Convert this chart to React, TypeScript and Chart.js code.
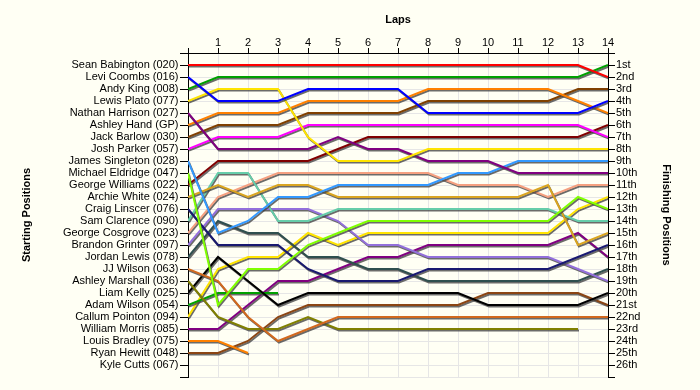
import React, { useEffect, useRef } from 'react';
import { Chart, registerables } from 'chart.js';

Chart.register(...registerables);

const laps = [0, 1, 2, 3, 4, 5, 6, 7, 8, 9, 10, 11, 12, 13, 14];

const startingLabels = [
  'Sean Babington (020)', 'Levi Coombs (016)', 'Andy King (008)', 'Lewis Plato (077)',
  'Nathan Harrison (027)', 'Ashley Hand (GP)', 'Jack Barlow (030)', 'Josh Parker (057)',
  'James Singleton (028)', 'Michael Eldridge (047)', 'George Williams (022)', 'Archie White (024)',
  'Craig Linscer (076)', 'Sam Clarence (090)', 'George Cosgrove (023)', 'Brandon Grinter (097)',
  'Jordan Lewis (078)', 'JJ Wilson (063)', 'Ashley Marshall (036)', 'Liam Kelly (025)',
  'Adam Wilson (054)', 'Callum Pointon (094)', 'William Morris (085)', 'Louis Bradley (075)',
  'Ryan Hewitt (048)', 'Kyle Cutts (067)',
];

const finishingLabels = [
  '1st', '2nd', '3rd', '4th', '5th', '6th', '7th', '8th', '9th', '10th', '11th', '12th', '13th',
  '14th', '15th', '16th', '17th', '18th', '19th', '20th', '21st', '22nd', '23rd', '24th', '25th', '26th',
];

// position of each driver after each lap (lap 0 = grid)
const seanBabington = [1, 1, 1, 1, 1, 1, 1, 1, 1, 1, 1, 1, 1, 1, 2];
const leviCoombs = [2, 4, 4, 4, 3, 3, 3, 3, 5, 5, 5, 5, 5, 5, 4];
const andyKing = [3, 2, 2, 2, 2, 2, 2, 2, 2, 2, 2, 2, 2, 2, 1];
const lewisPlato = [4, 3, 3, 3, 7, 9, 9, 9, 8, 8, 8, 8, 8, 8, 8];
const nathanHarrison = [5, 8, 8, 8, 8, 7, 8, 8, 9, 9, 9, 10, 10, 10, 10];
const ashleyHand = [6, 5, 5, 5, 4, 4, 4, 4, 3, 3, 3, 3, 3, 4, 5];
const jackBarlow = [7, 6, 6, 6, 5, 5, 5, 5, 4, 4, 4, 4, 4, 3, 3];
const joshParker = [8, 7, 7, 7, 6, 6, 6, 6, 6, 6, 6, 6, 6, 6, 7];
const jamesSingleton = [9, 15, 14, 12, 12, 11, 11, 11, 11, 10, 10, 9, 9, 9, 9];
const michaelEldridge = [10, 21, 18, 18, 16, 15, 14, 14, 14, 14, 14, 14, 14, 12, 13];
const georgeWilliams = [11, 9, 9, 9, 9, 8, 7, 7, 7, 7, 7, 7, 7, 7, 6];
const archieWhite = [12, 11, 12, 11, 11, 12, 12, 12, 12, 12, 12, 12, 11, 16, 15];
const craigLinscer = [13, 16, 16, 16, 18, 19, 19, 19, 18, 18, 18, 18, 18, 17, 16];
const samClarence = [14, 10, 10, 14, 14, 13, 13, 13, 13, 13, 13, 13, 13, 14, 14];
const georgeCosgrove = [15, 12, 11, 10, 10, 10, 10, 10, 10, 11, 11, 11, 12, 11, 11];
const brandonGrinter = [16, 13, 13, 13, 13, 14, 16, 16, 17, 17, 17, 17, 17, 18, 19];
const jordanLewis = [17, 14, 15, 15, 17, 17, 18, 18, 19, 19, 19, 19, 19, 19, 18];
const jjWilson = [18, 19, 22, 24, 23, 22, 22, 22, 22, 22, 22, 22, 22, 22, 22];
const ashleyMarshall = [19, 22, 23, 23, 22, 23, 23, 23, 23, 23, 23, 23, 23, 23, null];
const liamKelly = [20, 17, 19, 21, 20, 20, 20, 20, 20, 20, 21, 21, 21, 21, 20];
const adamWilson = [21, 20, 20, 20, null, null, null, null, null, null, null, null, null, null, null];
const callumPointon = [22, 18, 17, 17, 15, 16, 15, 15, 15, 15, 15, 15, 15, 13, 12];
const williamMorris = [23, 23, 21, 19, 19, 18, 17, 17, 16, 16, 16, 16, 16, 15, 17];
const louisBradley = [24, 24, 25, null, null, null, null, null, null, null, null, null, null, null, null];
const ryanHewitt = [25, 25, 24, 22, 21, 21, 21, 21, 21, 21, 20, 20, 20, 20, 21];
const kyleCutts: (number | null)[] = [null, null, null, null, null, null, null, null, null, null, null, null, null, null, null];

const driverPositions = [
  seanBabington, leviCoombs, andyKing, lewisPlato, nathanHarrison, ashleyHand, jackBarlow,
  joshParker, jamesSingleton, michaelEldridge, georgeWilliams, archieWhite, craigLinscer,
  samClarence, georgeCosgrove, brandonGrinter, jordanLewis, jjWilson, ashleyMarshall, liamKelly,
  adamWilson, callumPointon, williamMorris, louisBradley, ryanHewitt, kyleCutts,
];

const lineColors = [
  '#FF0000', '#0000FF', '#00A000', '#FFE400', '#800080', '#FF8000', '#804000', '#FF00FF',
  '#3399FF', '#80FF00', '#800000', '#DAA520', '#191970', '#66CDAA', '#F5A080', '#9370DB',
  '#2F4F4F', '#D2691E', '#808000', '#000000', '#00A000', '#FFE400', '#800080', '#FF8000',
  '#8B4513', '#FF00FF',
];

const shadowPlugin = {
  id: 'lineShadow',
  beforeDatasetDraw(chart: any) {
    const c = chart.ctx;
    c.save();
    c.shadowColor = 'rgba(70,70,70,0.8)';
    c.shadowOffsetX = 1;
    c.shadowOffsetY = 1.5;
    c.shadowBlur = 0;
  },
  afterDatasetDraw(chart: any) {
    chart.ctx.restore();
  },
};

const yTickValues = [0, ...startingLabels.map((_, i) => i + 1), startingLabels.length + 1];

export default function App() {
  const ref = useRef<HTMLCanvasElement | null>(null);

  useEffect(() => {
    if (!ref.current) return;
    Chart.defaults.font.family = '"Liberation Sans", Arial, sans-serif';
    const datasets = driverPositions
      .map((pos, i) => ({
        label: startingLabels[i],
        data: pos.map((p, j) => ({ x: laps[j], y: p })),
        borderColor: lineColors[i],
        backgroundColor: lineColors[i],
        borderWidth: 2,
        pointRadius: 0,
        tension: 0,
        fill: false,
        spanGaps: false,
        yAxisID: 'y',
        xAxisID: 'x',
      }))
      .filter((d) => d.data.some((pt) => pt.y !== null));

    const gridColor = '#E6E6E6';
    const tickFont = { size: 11 };
    const titleFont = { size: 11, weight: 'bold' as const };

    const chart = new Chart(ref.current, {
      type: 'line',
      data: { datasets },
      plugins: [shadowPlugin],
      options: {
        responsive: false,
        animation: false,
        layout: { padding: { left: 0, right: 0, top: 0, bottom: 13 } },
        plugins: { legend: { display: false }, tooltip: { enabled: false } },
        scales: {
          x: {
            type: 'linear',
            position: 'top',
            min: 0,
            max: 14,
            afterBuildTicks: (s: any) => {
              s.ticks = laps.map((v) => ({ value: v }));
            },
            afterFit: (s: any) => {
              s.height = 53;
            },
            ticks: {
              autoSkip: false,
              maxRotation: 0,
              color: '#000',
              font: tickFont,
              padding: -2,
              callback: (v: any) => (v === 0 ? '' : String(v)),
            },
            grid: { color: gridColor, tickColor: '#000', tickLength: 5 },
            border: { color: '#000', width: 1 },
            title: { display: true, text: 'Laps', color: '#000', font: titleFont, padding: { top: 13, bottom: 0 } },
          },
          y: {
            type: 'linear',
            position: 'left',
            reverse: true,
            min: 0,
            max: 27,
            afterBuildTicks: (s: any) => {
              s.ticks = yTickValues.map((v) => ({ value: v }));
            },
            afterFit: (s: any) => {
              s.width = 188;
            },
            ticks: {
              autoSkip: false,
              color: '#000',
              font: tickFont,
              padding: 1.5,
              callback: (v: any) => startingLabels[v - 1] ?? '',
            },
            grid: { color: gridColor, tickColor: '#000', tickLength: 8 },
            border: { color: '#000', width: 1 },
            title: { display: true, text: 'Starting Positions', color: '#000', font: titleFont, padding: { top: 20, bottom: 0 } },
          },
          y2: {
            type: 'linear',
            position: 'right',
            reverse: true,
            min: 0,
            max: 27,
            afterBuildTicks: (s: any) => {
              s.ticks = yTickValues.map((v) => ({ value: v }));
            },
            afterFit: (s: any) => {
              s.width = 92;
            },
            ticks: {
              autoSkip: false,
              color: '#000',
              font: tickFont,
              padding: 1,
              callback: (v: any) => finishingLabels[v - 1] ?? '',
            },
            grid: { drawOnChartArea: false, tickColor: '#000', tickLength: 7 },
            border: { color: '#000', width: 1 },
            title: { display: true, text: 'Finishing Positions', color: '#000', font: titleFont, padding: { top: 27, bottom: 0 } },
          },
        },
      } as any,
    });
    return () => chart.destroy();
  }, []);

  return (
    <div style={{ position: 'fixed', left: 0, top: 0, width: 700, height: 390, background: '#FFFFF4' }}>
      <canvas ref={ref} width={700} height={390} style={{ display: 'block', width: 700, height: 390 }} />
    </div>
  );
}
